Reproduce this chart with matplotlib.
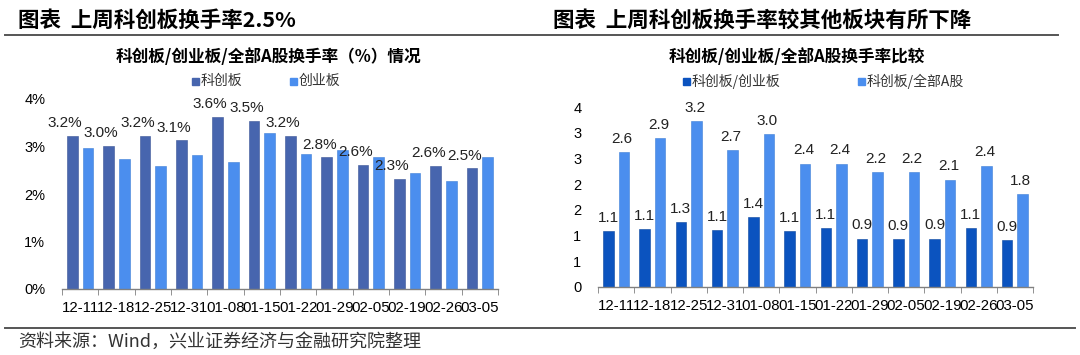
import numpy as np
import matplotlib
matplotlib.use("Agg")
import matplotlib.pyplot as plt
from matplotlib.lines import Line2D
from matplotlib.patches import Rectangle

plt.rcParams['font.family'] = ['Liberation Sans', 'Noto Sans CJK SC', 'DejaVu Sans']
CJK = ['Noto Sans CJK SC', 'DejaVu Sans']

# données
dates = ['12-11', '12-18', '12-25', '12-31', '01-08', '01-15',
         '01-22', '01-29', '02-05', '02-19', '02-26', '03-05']
kcb = [3.22, 3.02, 3.22, 3.13, 3.62, 3.54, 3.23, 2.77, 2.61, 2.32, 2.59, 2.54]
cyb = [2.97, 2.73, 2.58, 2.82, 2.68, 3.29, 2.85, 2.93, 2.78, 2.44, 2.27, 2.77]
ratio_cyb = [1.09, 1.12, 1.26, 1.11, 1.36, 1.08, 1.14, 0.94, 0.93, 0.94, 1.14, 0.92]
ratio_all = [2.63, 2.90, 3.23, 2.66, 2.97, 2.40, 2.40, 2.23, 2.24, 2.09, 2.36, 1.81]
right_ticks = [0, 0.5, 1, 1.5, 2, 2.5, 3, 3.5]
right_ticklabels = ['0', '1', '1', '2', '2', '3', '3', '4']

C_DARK = '#4765AE'
C_LIGHT = '#4B8EEE'
C_NAVY = '#0B53BF'

fig = plt.figure(figsize=(10.8, 3.55), dpi=100)
W, H = 1080, 355

def fx(px):
    return px / W

def fy(py):
    return 1 - py / H

x = np.arange(len(dates))
bw = 0.29
off = 0.215

def style_axes(ax):
    for s in ['top', 'right', 'left']:
        ax.spines[s].set_visible(False)
    ax.spines['bottom'].set_color('#808080')
    ax.spines['bottom'].set_linewidth(1.0)
    ax.set_xlim(-0.5, len(dates) - 0.5)
    ax.set_xticks(x)
    ax.set_xticklabels(dates, fontsize=10.8)
    ax.set_xticks(np.arange(len(dates) + 1) - 0.5, minor=True)
    ax.tick_params(axis='x', which='major', length=0, pad=9)
    ax.tick_params(axis='x', which='minor', length=4, color='#808080', direction='out')
    ax.tick_params(axis='y', length=0, labelsize=10.5, pad=12)

# graphique de gauche
ax1 = fig.add_axes([fx(62), fy(289), fx(498 - 62), fy(99) - fy(289)])
ax1.bar(x - off, kcb, bw, color=C_DARK, edgecolor='#3a5596', linewidth=0.4)
ax1.bar(x + off, cyb, bw, color=C_LIGHT, edgecolor='#3f7fd6', linewidth=0.4)
ax1.set_ylim(0, 4)
ax1.set_yticks([0, 1, 2, 3, 4])
ax1.set_yticklabels(['%d%%' % v for v in range(5)])
style_axes(ax1)
for xi, v in zip(x, kcb):
    ax1.text(xi - 0.42, v + 0.12, '%.1f%%' % v, ha='center', va='bottom',
             fontsize=11, color='#222222', clip_on=False)

# graphique de droite
ax2 = fig.add_axes([fx(598), fy(287), fx(1033 - 598), fy(107) - fy(287)])
ax2.bar(x - off, ratio_cyb, bw, color=C_NAVY, edgecolor='#0a469f', linewidth=0.4)
ax2.bar(x + off, ratio_all, bw, color=C_LIGHT, edgecolor='#3f7fd6', linewidth=0.4)
ax2.set_ylim(0, 3.5)
ax2.set_yticks(right_ticks)
ax2.set_yticklabels(right_ticklabels)
style_axes(ax2)
for xi, v in zip(x, ratio_cyb):
    ax2.text(xi - off, v + 0.12, '%.1f' % v, ha='center', va='bottom',
             fontsize=11, color='#222222', clip_on=False)
for xi, v in zip(x, ratio_all):
    ax2.text(xi + off - 0.05, v + 0.12, '%.1f' % v, ha='center', va='bottom',
             fontsize=11, color='#222222', clip_on=False)

# titres
fig.text(fx(18), fy(20), '图表  上周科创板换手率2.5%', fontsize=15.5, fontweight='heavy',
         family=CJK, va='center', ha='left')
fig.text(fx(553), fy(20), '图表  上周科创板换手率较其他板块有所下降', fontsize=15.5,
         fontweight='heavy', family=CJK, va='center', ha='left')
fig.add_artist(Line2D([fx(5), fx(1058)], [fy(34.5), fy(34.5)], color='#555555', lw=1.4))

fig.text(fx(268), fy(57), '科创板/创业板/全部A股换手率（%）情况', fontsize=12,
         fontweight='bold', family=CJK, ha='center', va='center')
fig.text(fx(797), fy(57), '科创板/创业板/全部A股换手率比较', fontsize=12,
         fontweight='bold', family=CJK, ha='center', va='center')

# légendes
def legend_item(px, py, color, label):
    fig.add_artist(Rectangle((fx(px - 3.5), fy(py + 3.5)), fx(7), fy(0) - fy(7),
                             color=color, transform=fig.transFigure))
    fig.text(fx(px + 6), fy(py), label, fontsize=10, family=CJK, color='#333333',
             ha='left', va='center')

legend_item(195, 81, C_DARK, '科创板')
legend_item(293, 81, C_LIGHT, '创业板')
legend_item(686, 81, C_NAVY, '科创板/创业板')
legend_item(861, 81, C_LIGHT, '科创板/全部A股')

# source
fig.add_artist(Line2D([fx(5), fx(1075)], [fy(328), fy(328)], color='#555555', lw=1.4))
fig.text(fx(18), fy(342), '资料来源：Wind，兴业证券经济与金融研究院整理', fontsize=13,
         family=CJK, color='#333333', ha='left', va='center')

fig.savefig('out.png', dpi=100)
